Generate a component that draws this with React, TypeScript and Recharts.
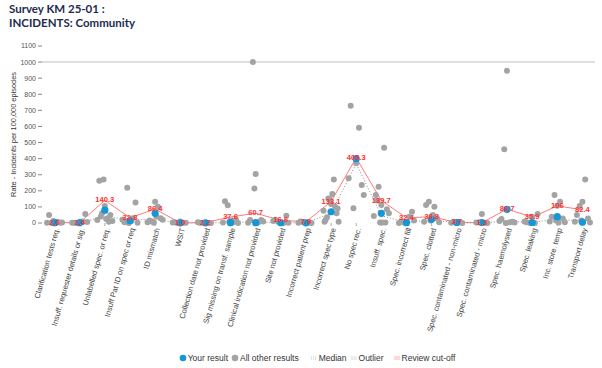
import { ComposedChart, Line, Scatter, XAxis, YAxis, ReferenceLine, LabelList } from "recharts";

const CATEGORIES = [
  "Clarification tests req.",
  "Insuff. requester details or sig.",
  "Unlabelled spec. or req.",
  "Insuff Pat ID on spec or req",
  "ID mismatch",
  "WSIT",
  "Collection date not provided",
  "Sig missing on transf. sample",
  "Clinical indication not provided",
  "Site not provided",
  "Incorrect patient prep",
  "Incorrect spec type",
  "No spec rec.",
  "Insuff. spec.",
  "Spec. incorrect fill",
  "Spec. clotted",
  "Spec. contaminated - non-micro",
  "Spec. contaminated - micro",
  "Spec. haemolysed",
  "Spec. leaking",
  "Inc. store. temp",
  "Transport delay",
];

// review cut-off per category (red line + labels)
const CUTOFF = [2.6, 2.4, 140.3, 32.8, 86.4, 1.0, 2.2, 37.6, 60.7, 16.6, 7.9, 133.1, 405.3, 139.7, 32.4, 38.8, 3.7, 1.3, 86.7, 35.9, 106, 82.4];
const YOUR_RESULT = [2, 2, 80, 14, 60, 1, 1, 2, 2, 2, 1, 70, 400, 60, 2, 23, 3, 3, 85, 3, 39, 5];
const MEDIAN = [1, 2, 40, 22, 20, 0.5, 0.5, 3, 5, 3, 1, 60, 370, 45, 3, 20, 1, 1, 12, 3, 25, 10];

// all other participants, one list per category
const OTHERS: number[][] = [
  [5, 50, 2, 0, 8, 1, 3, 12, 0],
  [4, 1, 56, 0, 10, 2, 6, 0],
  [106, 263, 50, 60, 30, 18, 12, 271, 25, 40, 8],
  [10, 5, 128, 219, 29, 20, 2, 0, 14],
  [132, 16, 30, 10, 101, 5, 20, 2, 40],
  [10, 5, 2, 0, 1, 3],
  [3, 1, 0, 2, 0, 5],
  [10, 135, 20, 110, 5, 3, 0, 8, 15],
  [304, 18, 18, 1000, 5, 2, 10, 215, 0],
  [3, 20, 45, 8, 0, 12, 2],
  [3, 10, 0, 5, 1, 2],
  [118, 19, 60, 153, 271, 76, 8, 147, 180, 35, 101, 8, 90],
  [371, 729, 236, 91, 592, 278, 174],
  [112, 174, 85, 226, 468, 43, 60, 3, 3, 140, 3],
  [5, 8, 70, 3, 39, 0, 15],
  [39, 112, 28, 132, 101, 8, 5, 15, 50],
  [5, 2, 0, 8, 3],
  [56, 3, 0, 5, 2],
  [946, 25, 8, 458, 5, 12, 3, 0],
  [39, 5, 56, 2, 0, 10],
  [107, 39, 28, 174, 132, 10, 5, 15, 3],
  [132, 50, 28, 106, 271, 8, 3, 15],
];

const Y_TICKS = [0, 100, 200, 300, 400, 500, 600, 700, 800, 900, 1000, 1100];
const OUTLIER_LIMIT = 1000;

const JITTER = [0, -0.22, 0.22, -0.11, 0.11, -0.3, 0.3, -0.05, 0.05, -0.16, 0.16, -0.26, 0.26];

const rows = CATEGORIES.map((name, i) => ({
  x: i,
  name,
  cutoff: CUTOFF[i],
  median: MEDIAN[i],
  yours: YOUR_RESULT[i],
}));

const otherPoints = OTHERS.flatMap((vals, i) =>
  vals.map((v, j) => ({ x: i + JITTER[j % JITTER.length], y: v }))
);

const FONT = "'Liberation Sans', Arial, sans-serif";
const BLUE = "#1497d8";
const GREY = "#a3a3a3";
const RED = "#ff3030";

function fmt(v: number) {
  return v >= 100 && Number.isInteger(v) ? String(v) : v.toFixed(1);
}

function CategoryTick({ x, y, payload }: any) {
  return (
    <g transform={`translate(${x + 2},${y})`}>
      <text
        transform="rotate(-74)"
        textAnchor="end"
        dy={3}
        fontSize={7.6}
        fontFamily={FONT}
        fill="#444"
      >
        {CATEGORIES[payload.value]}
      </text>
    </g>
  );
}

function CutoffLabel(props: any) {
  const { x, y, value } = props;
  return (
    <text
      x={x}
      y={y}
      dy={2}
      textAnchor="middle"
      fontSize={7.6}
      fontWeight="bold"
      fontFamily={FONT}
      fill={RED}
    >
      {fmt(value)}
    </text>
  );
}

function LegendItem({ icon, label }: { icon: React.ReactNode; label: string }) {
  return (
    <span style={{ display: "inline-flex", alignItems: "center", marginRight: 3 }}>
      {icon}
      <span style={{ marginLeft: 1 }}>{label}</span>
    </span>
  );
}

const dot = (color: string) => (
  <svg width={8} height={8}>
    <circle cx={4} cy={4} r={3.3} fill={color} />
  </svg>
);

const lineIcon = (color: string, dash?: string) => (
  <svg width={8} height={8}>
    <line x1={1} y1={3} x2={7} y2={3} stroke={color} strokeWidth={1} strokeDasharray={dash} />
    <line x1={1} y1={5} x2={7} y2={5} stroke={color} strokeWidth={1} strokeDasharray={dash} />
  </svg>
);

export default function App() {
  return (
    <div style={{ position: "absolute", left: 0, top: 0, width: 602, height: 368, background: "#fff" }}>
      <div
        style={{
          position: "absolute",
          left: 9,
          top: 2,
          fontFamily: "Lato, 'Open Sans', sans-serif",
          fontWeight: 700,
          fontSize: 11.5,
          lineHeight: "14px",
          color: "#1d2b4f",
        }}
      >
        <div>Survey KM 25-01 :</div>
        <div>INCIDENTS: Community</div>
      </div>

      <ComposedChart width={602} height={368} data={rows} margin={{ top: 46, right: 7, left: 0, bottom: 0 }}>
        <XAxis
          dataKey="x"
          type="number"
          domain={[-0.5, 21.5]}
          ticks={rows.map((r) => r.x)}
          interval={0}
          height={145}
          axisLine={false}
          tickSize={3}
          tickLine={{ stroke: "#aaa" }}
          tick={<CategoryTick />}
        />
        <YAxis
          type="number"
          domain={[0, 1100]}
          ticks={Y_TICKS}
          width={42}
          axisLine={false}
          tickSize={4}
          tickLine={{ stroke: "#888" }}
          tick={{ fontSize: 7, fill: "#555", fontFamily: FONT }}
          label={{
            content: (p: any) => {
              const vb = p.viewBox;
              const cx = vb.x + 13;
              const cy = vb.y + vb.height / 2;
              return (
                <text
                  x={cx}
                  y={cy}
                  transform={`rotate(-90 ${cx} ${cy})`}
                  textAnchor="middle"
                  dominantBaseline="central"
                  fontSize={7.4}
                  fontFamily={FONT}
                  fill="#333"
                >
                  Rate - Incidents per 100,000 episodes
                </text>
              );
            },
          }}
        />
        <ReferenceLine y={OUTLIER_LIMIT} stroke="#dedede" strokeWidth={2} />
        <Scatter
          name="All other results"
          data={otherPoints}
          dataKey="y"
          fill={GREY}
          isAnimationActive={false}
          shape={(p: any) => <circle cx={p.cx} cy={p.cy} r={3} fill={GREY} />}
        />
        <Line
          dataKey="median"
          stroke="#8a8a8a"
          strokeWidth={1}
          strokeDasharray="1 2"
          dot={false}
          activeDot={false}
          isAnimationActive={false}
        />
        <Line
          dataKey="cutoff"
          stroke="#ff7a7a"
          strokeWidth={1}
          dot={false}
          activeDot={false}
          isAnimationActive={false}
        />
        <Scatter
          name="Your result"
          data={rows}
          dataKey="yours"
          fill={BLUE}
          isAnimationActive={false}
          shape={(p: any) => <circle cx={p.cx} cy={p.cy} r={3.6} fill={BLUE} />}
        />
        <Line dataKey="cutoff" stroke="none" dot={false} activeDot={false} isAnimationActive={false}>
          <LabelList dataKey="cutoff" content={<CutoffLabel />} />
        </Line>
      </ComposedChart>

      <div
        style={{
          position: "absolute",
          left: 42,
          width: 553,
          top: 352,
          height: 12,
          display: "flex",
          justifyContent: "center",
          alignItems: "center",
          fontFamily: FONT,
          fontSize: 8.5,
          color: "#333",
          whiteSpace: "nowrap",
        }}
      >
        <LegendItem icon={dot(BLUE)} label="Your result" />
        <LegendItem icon={dot(GREY)} label="All other results" />
        <span style={{ width: 8 }} />
        <LegendItem icon={lineIcon("#c8c8c8", "1 1")} label="Median" />
        <LegendItem icon={lineIcon("#dcdcdc")} label="Outlier" />
        <span style={{ width: 6 }} />
        <LegendItem icon={lineIcon("#ffb0b0")} label="Review cut-off" />
      </div>
    </div>
  );
}
